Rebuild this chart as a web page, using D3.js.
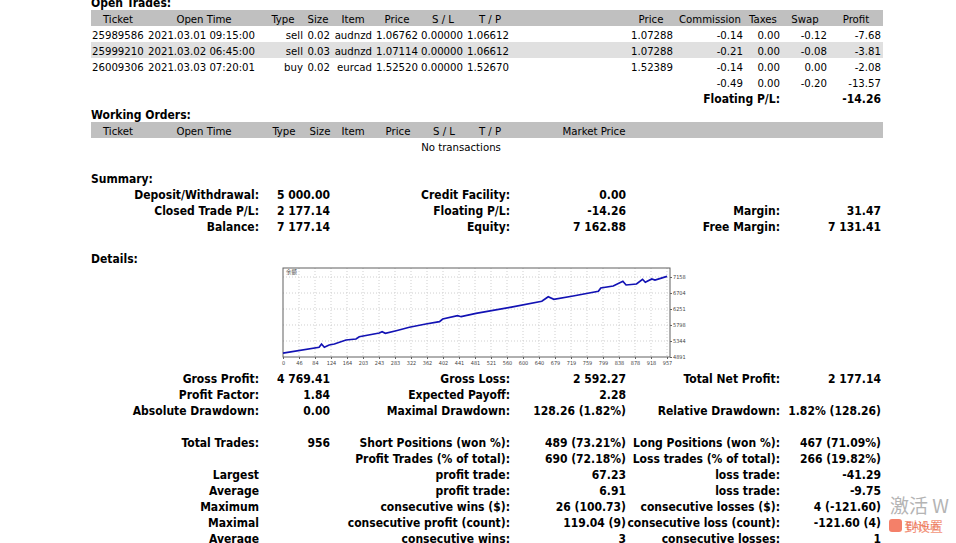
<!DOCTYPE html>
<meta charset="utf-8">
<style>
body { margin: 0; background: #fff; }
svg text { font-family: "DejaVu Sans Condensed", "DejaVu Sans", sans-serif; font-size: 11.3px; fill: #000; }
svg text.b { font-weight: bold; font-size: 12px; }
.grid line { stroke: #cfcfcf; stroke-dasharray: 1,2; }
.tiny { font-size: 5.5px !important; fill: #444 !important; }
</style>
<body>
<svg width="956" height="543"></svg>
<script src="https://d3js.org/d3.v7.min.js"></script>
<script>

var tradeHeaders = ["Ticket", "Open Time", "Type", "Size", "Item", "Price", "S / L", "T / P", "Price", "Commission", "Taxes", "Swap", "Profit"];
var tickets = ["25989586", "25999210", "26009306"];
var openTimes = ["2021.03.01 09:15:00", "2021.03.02 06:45:00", "2021.03.03 07:20:01"];
var types = ["sell", "sell", "buy"];
var sizes = ["0.02", "0.03", "0.02"];
var items = ["audnzd", "audnzd", "eurcad"];
var openPrices = ["1.06762", "1.07114", "1.52520"];
var stopLoss = ["0.00000", "0.00000", "0.00000"];
var takeProfit = ["1.06612", "1.06612", "1.52670"];
var marketPrices = ["1.07288", "1.07288", "1.52389"];
var commissions = ["-0.14", "-0.21", "-0.14"];
var taxes = ["0.00", "0.00", "0.00"];
var swaps = ["-0.12", "-0.08", "0.00"];
var profits = ["-7.68", "-3.81", "-2.08"];
var tradeTotals = ["-0.49", "0.00", "-0.20", "-13.57"];
var floatingPL = "-14.26";

var orderHeaders = ["Ticket", "Open Time", "Type", "Size", "Item", "Price", "S / L", "T / P", "Market Price"];

var summaryRows = [
  ["Deposit/Withdrawal:", "5 000.00", "Credit Facility:", "0.00", "", ""],
  ["Closed Trade P/L:", "2 177.14", "Floating P/L:", "-14.26", "Margin:", "31.47"],
  ["Balance:", "7 177.14", "Equity:", "7 162.88", "Free Margin:", "7 131.41"]
];

var detailRows = [
  ["Gross Profit:", "4 769.41", "Gross Loss:", "2 592.27", "Total Net Profit:", "2 177.14"],
  ["Profit Factor:", "1.84", "Expected Payoff:", "2.28", "", ""],
  ["Absolute Drawdown:", "0.00", "Maximal Drawdown:", "128.26 (1.82%)", "Relative Drawdown:", "1.82% (128.26)"],
  null,
  ["Total Trades:", "956", "Short Positions (won %):", "489 (73.21%)", "Long Positions (won %):", "467 (71.09%)"],
  ["", "", "Profit Trades (% of total):", "690 (72.18%)", "Loss trades (% of total):", "266 (19.82%)"],
  ["Largest", "", "profit trade:", "67.23", "loss trade:", "-41.29"],
  ["Average", "", "profit trade:", "6.91", "loss trade:", "-9.75"],
  ["Maximum", "", "consecutive wins ($):", "26 (100.73)", "consecutive losses ($):", "4 (-121.60)"],
  ["Maximal", "", "consecutive profit (count):", "119.04 (9)", "consecutive loss (count):", "-121.60 (4)"],
  ["Average", "", "consecutive wins:", "3", "consecutive losses:", "1"]
];

// balance curve (trade number, balance)
var tradeNo = [0, 90, 96, 103, 115, 128, 157, 182, 190, 240, 247, 255, 282, 315, 356, 390, 398, 435, 444, 481,
  566, 645, 661, 675, 723, 786, 792, 823, 847, 855, 881, 896, 903, 919, 927, 957];
var balance = [5000, 5166, 5259, 5166, 5231, 5259, 5373, 5401, 5466, 5571, 5608, 5563, 5636, 5733, 5826, 5891, 5968, 6061, 6033, 6129,
  6299, 6470, 6600, 6526, 6620, 6753, 6847, 6903, 7036, 6932, 6960, 7093, 7008, 7102, 7073, 7177.14];
var xTickLabels = ["0", "46", "84", "124", "164", "203", "243", "283", "322", "362", "402", "441", "481",
  "521", "560", "600", "640", "679", "719", "759", "799", "838", "878", "918", "957"];
var yTickValues = [4891, 5344, 5798, 6251, 6704, 7158];
var chartTitle = "余额";

// ---- drawing ----
var svg = d3.select("svg");

function txt(x, y, s, anchor, bold) {
  return svg.append("text")
      .attr("x", x)
      .attr("y", y + 5)
      .attr("text-anchor", anchor || "start")
      .attr("class", bold ? "b" : null)
      .text(s);
}

// Open trades
txt(91, 2, "Open Trades:", "start", true);
svg.append("rect").attr("x", 91).attr("y", 10).attr("width", 792).attr("height", 16).attr("fill", "#c0c0c0");
var headCx = [118, 204, 283, 318, 353, 397, 443, 490, 651, 710, 763, 805, 856];
tradeHeaders.forEach(function(h, i) { txt(headCx[i], 17.5, h, "middle"); });

var cols = [
  {x: 92, a: "start", v: tickets}, {x: 148, a: "start", v: openTimes}, {x: 303, a: "end", v: types},
  {x: 330, a: "end", v: sizes}, {x: 372, a: "end", v: items}, {x: 418, a: "end", v: openPrices},
  {x: 463, a: "end", v: stopLoss}, {x: 509, a: "end", v: takeProfit}, {x: 673, a: "end", v: marketPrices},
  {x: 743, a: "end", v: commissions}, {x: 780, a: "end", v: taxes}, {x: 827, a: "end", v: swaps},
  {x: 881, a: "end", v: profits}
];
tickets.forEach(function(t, r) {
  var yc = 34 + r * 16;
  if (r % 2 === 1) svg.append("rect").attr("x", 91).attr("y", yc - 8).attr("width", 792).attr("height", 16).attr("fill", "#e0e0e0");
  cols.forEach(function(c) { txt(c.x, yc - 0.5, c.v[r], c.a); });
});
tradeTotals.forEach(function(v, i) { txt(cols[9 + i].x, 81.5, v, "end"); });
txt(780, 98, "Floating P/L:", "end", true);
txt(881, 98, floatingPL, "end", true);

// Working orders
txt(91, 114, "Working Orders:", "start", true);
svg.append("rect").attr("x", 91).attr("y", 122).attr("width", 792).attr("height", 16).attr("fill", "#c0c0c0");
var orderCx = [118, 204, 284, 320, 353, 398, 444, 490, 594];
orderHeaders.forEach(function(h, i) { txt(orderCx[i], 129.5, h, "middle"); });
txt(461, 145.5, "No transactions", "middle");

// Summary + details grid
var colRight = [259, 330, 510, 626, 780, 881];
function drawRows(rows, y0) {
  rows.forEach(function(row, r) {
    if (!row) return;
    row.forEach(function(s, i) { if (s) txt(colRight[i], y0 + r * 16, s, "end", true); });
  });
}
txt(91, 178, "Summary:", "start", true);
drawRows(summaryRows, 194);
txt(91, 258, "Details:", "start", true);
drawRows(detailRows, 378);

// Balance chart
var cx = d3.scaleLinear().domain([0, 957]).range([283, 667]);
var cy = d3.scaleLinear().domain([4891, 7158]).range([357, 277]);
var xt = d3.scalePoint().domain(xTickLabels).range([283, 667]);

var chart = svg.append("g");
var grid = chart.append("g").attr("class", "grid");
grid.selectAll(".v").data(xTickLabels.slice(1)).enter().append("line")
    .attr("x1", function(d) { return xt(d); }).attr("x2", function(d) { return xt(d); })
    .attr("y1", 268).attr("y2", 357);
grid.selectAll(".h").data(yTickValues.slice(1)).enter().append("line")
    .attr("x1", 283).attr("x2", 670)
    .attr("y1", function(d) { return cy(d); }).attr("y2", function(d) { return cy(d); });

chart.append("rect").attr("x", 283).attr("y", 268).attr("width", 387).attr("height", 89)
    .attr("fill", "none").attr("stroke", "#606060");

chart.append("g").attr("transform", "translate(0,357)")
    .call(d3.axisBottom(xt).tickSize(2).tickPadding(2))
    .call(function(g) { g.select(".domain").remove(); })
    .call(function(g) { g.selectAll("line").attr("stroke", "#606060"); g.selectAll("text").attr("class", "tiny"); });
chart.append("g").attr("transform", "translate(670,0)")
    .call(d3.axisRight(cy).tickValues(yTickValues).tickFormat(d3.format("d")).tickSize(2).tickPadding(1))
    .call(function(g) { g.select(".domain").remove(); })
    .call(function(g) { g.selectAll("line").attr("stroke", "#606060"); g.selectAll("text").attr("class", "tiny"); });

chart.append("path")
    .datum(tradeNo.map(function(t, i) { return [t, balance[i]]; }))
    .attr("fill", "none").attr("stroke", "#1212b4").attr("stroke-width", 1.7)
    .attr("d", d3.line().x(function(d) { return cx(d[0]); }).y(function(d) { return cy(d[1]); }));

chart.append("text").attr("x", 286).attr("y", 274).attr("class", "tiny")
    .style("font-family", "'Noto Sans CJK SC'").text(chartTitle);

// watermark in the corner of the screenshot
svg.append("text").attr("x", 890).attr("y", 513)
    .style("font-family", "'Noto Sans CJK SC'").style("font-size", "19px").style("fill", "#b4b4b4")
    .text("激活 W");
svg.append("rect").attr("x", 889).attr("y", 519).attr("width", 13).attr("height", 13).attr("rx", 3)
    .attr("fill", "#f26a4f").attr("opacity", 0.85);
svg.append("text").attr("x", 904).attr("y", 531)
    .style("font-family", "'Noto Sans CJK SC'").style("font-size", "13px").style("fill", "#f0785a").style("opacity", 0.8)
    .text("到设置");
svg.append("text").attr("x", 906).attr("y", 530)
    .style("font-size", "11px").style("fill", "#e8603c").style("opacity", 0.7)
    .text("EAHub");

</script>
</body>
